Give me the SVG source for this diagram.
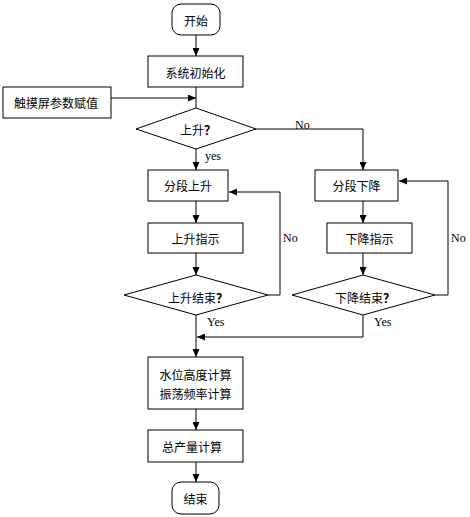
<svg xmlns="http://www.w3.org/2000/svg" width="470" height="517" viewBox="0 0 470 517">
<defs>
<marker id="ah" markerWidth="9" markerHeight="7" refX="8" refY="3.5" orient="auto" markerUnits="userSpaceOnUse">
<path d="M0,0 L8,3.5 L0,7 z" fill="#000"/>
</marker>
<style>
.n{fill:#fff;stroke:#000;stroke-width:1}
.t{font-family:"Noto Sans CJK SC","Noto Sans",sans-serif;font-size:12px;fill:#000;text-anchor:middle;dominant-baseline:central}
.q{font-weight:bold}
.l{font-family:"Liberation Serif",serif;font-size:12px;fill:#000}
.c{fill:none;stroke:#000;stroke-width:1;marker-end:url(#ah)}
.p{fill:none;stroke:#000;stroke-width:1}
</style>
</defs>
<rect width="470" height="517" fill="#fff"/>
<g id="connectors">
<line class="c" x1="196" y1="35" x2="196" y2="56"/>
<line class="p" x1="196" y1="87" x2="196" y2="108"/>
<line class="c" x1="111" y1="98" x2="196" y2="98"/>
<line class="c" x1="196" y1="149" x2="196" y2="170"/>
<polyline class="c" points="256,129 363,129 363,170"/>
<line class="c" x1="196" y1="201" x2="196" y2="223"/>
<line class="c" x1="363" y1="201" x2="363" y2="223"/>
<line class="c" x1="196" y1="253" x2="196" y2="275"/>
<line class="c" x1="363" y1="253" x2="363" y2="275"/>
<polyline class="c" points="268,295 280,295 280,192 229,192"/>
<polyline class="c" points="435,295 448,295 448,181 399,181"/>
<line class="c" x1="196" y1="315" x2="196" y2="357"/>
<polyline class="c" points="363,315 363,337 197,337"/>
<line class="c" x1="196" y1="409" x2="196" y2="430"/>
<line class="c" x1="196" y1="462" x2="196" y2="482"/>
<text class="l" x="295" y="129">No</text>
<text class="l" x="205" y="160">yes</text>
<text class="l" x="283" y="242">No</text>
<text class="l" x="451" y="242">No</text>
<text class="l" x="207" y="326">Yes</text>
<text class="l" x="374" y="326">Yes</text>
</g>
<g id="start"><rect class="n" x="172" y="4" width="48" height="31" rx="9"/><text class="t" x="196" y="20">开始</text></g>
<g id="init"><rect class="n" x="148" y="56" width="95" height="31"/><text class="t" x="195.5" y="72">系统初始化</text></g>
<g id="touch"><rect class="n" x="3" y="87" width="108" height="31"/><text class="t" x="56" y="102">触摸屏参数赋值</text></g>
<g id="rise_q"><polygon class="n" points="196,108 256,129 196,149 136,129"/><text class="t" x="198" y="129">上升<tspan class="q">？</tspan></text></g>
<g id="rise_seg"><rect class="n" x="148" y="170" width="80" height="31"/><text class="t" x="188" y="185.5">分段上升</text></g>
<g id="fall_seg"><rect class="n" x="315" y="170" width="83" height="31"/><text class="t" x="356.5" y="185.5">分段下降</text></g>
<g id="rise_ind"><rect class="n" x="148" y="223" width="95" height="30"/><text class="t" x="195.5" y="238">上升指示</text></g>
<g id="fall_ind"><rect class="n" x="327" y="223" width="85" height="30"/><text class="t" x="369.5" y="238">下降指示</text></g>
<g id="rise_end"><polygon class="n" points="196,275 268,295 196,315 124,295"/><text class="t" x="198" y="297">上升结束<tspan class="q">？</tspan></text></g>
<g id="fall_end"><polygon class="n" points="363,275 435,295 363,315 292,295"/><text class="t" x="365" y="297">下降结束<tspan class="q">？</tspan></text></g>
<g id="calc"><rect class="n" x="148" y="357" width="95" height="52"/><text class="t" x="195.5" y="374">水位高度计算</text><text class="t" x="195.5" y="393">振荡频率计算</text></g>
<g id="total"><rect class="n" x="148" y="430" width="95" height="32"/><text class="t" x="192" y="446">总产量计算</text></g>
<g id="end"><rect class="n" x="172" y="482" width="47" height="32" rx="9"/><text class="t" x="195.5" y="498">结束</text></g>
</svg>
